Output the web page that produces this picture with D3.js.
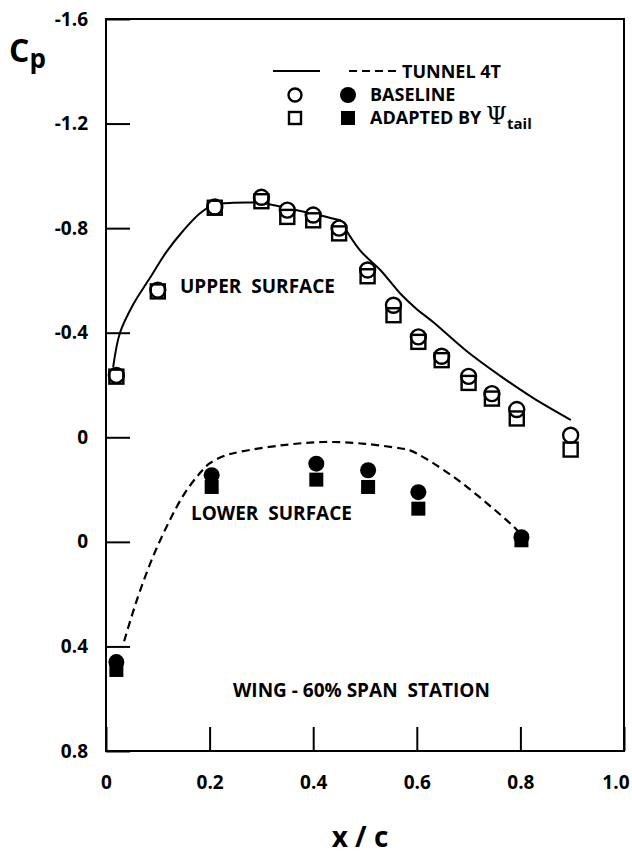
<!DOCTYPE html>
<html>
<head>
<meta charset="utf-8">
<script src="https://cdn.jsdelivr.net/npm/d3@7"></script>
<style>
  html, body { margin: 0; padding: 0; background: #fff; }
  svg { display: block; }
  text { font-family: "Open Sans", "DejaVu Sans", sans-serif; font-weight: 700; fill: #000; }
</style>
</head>
<body>
<svg id="chart" width="632" height="856"></svg>
<script>
// Wing pressure distribution, 60% span station.
// Lower-surface values are plotted on a second origin shifted 0.4 below the upper one.
const LOWER_OFFSET = 0.4;

// Tunnel 4T, upper surface (solid line); the curve has a kink at the shock (index UPPER_KINK)
const tunnelUpperX  = [0.014, 0.027, 0.053, 0.085, 0.117, 0.149, 0.181, 0.207, 0.246, 0.30, 0.36, 0.40, 0.452, 0.49, 0.53, 0.568, 0.60, 0.632, 0.696, 0.761, 0.825, 0.896];
const tunnelUpperCp = [-0.27, -0.40, -0.51, -0.61, -0.71, -0.79, -0.856, -0.888, -0.897, -0.896, -0.872, -0.855, -0.83, -0.716, -0.639, -0.55, -0.49, -0.44, -0.33, -0.235, -0.15, -0.068];
const UPPER_KINK = 12;

// Tunnel 4T, lower surface (dashed line)
const tunnelLowerX  = [0.035, 0.06, 0.09, 0.12, 0.15, 0.18, 0.20, 0.23, 0.26, 0.342, 0.42, 0.50, 0.57, 0.587, 0.67, 0.786, 0.80];
const tunnelLowerCp = [0.38, 0.22, 0.06, -0.07, -0.18, -0.26, -0.30, -0.33, -0.345, -0.37, -0.382, -0.375, -0.357, -0.35, -0.25, -0.06, -0.03];

// Upper surface computations
const upperX          = [0.02, 0.10, 0.21, 0.30, 0.35, 0.40, 0.45, 0.505, 0.555, 0.603, 0.648, 0.70, 0.745, 0.793, 0.897];
const upperBaseline   = [-0.237, -0.563, -0.881, -0.918, -0.869, -0.85, -0.80, -0.64, -0.505, -0.384, -0.31, -0.233, -0.167, -0.106, -0.008];
const upperAdapted    = [-0.232, -0.558, -0.878, -0.903, -0.843, -0.83, -0.78, -0.616, -0.467, -0.365, -0.295, -0.208, -0.148, -0.072, 0.047];

// Lower surface computations
const lowerX          = [0.02, 0.204, 0.406, 0.506, 0.603, 0.802];
const lowerBaseline   = [0.46, -0.255, -0.299, -0.274, -0.19, -0.018];
const lowerAdapted    = [0.49, -0.21, -0.238, -0.21, -0.127, -0.006];

// Axis ticks
const xTicks = [0, 0.2, 0.4, 0.6, 0.8, 1.0];
const xTickLabels = ["0", "0.2", "0.4", "0.6", "0.8", "1.0"];
const yTicks = [-1.6, -1.2, -0.8, -0.4, 0, 0.4, 0.8, 1.2];
const yTickLabels = ["-1.6", "-1.2", "-0.8", "-0.4", "0", "0", "0.4", "0.8"];

const svg = d3.select("#chart");
const plot = { left: 106, right: 624, top: 19, bottom: 751 };

const x = d3.scaleLinear().domain([0, 1]).range([plot.left, plot.right]);
const y = d3.scaleLinear().domain([-1.6, 1.2]).range([plot.top, plot.bottom]);

// Axes with inward ticks
const yAxis = d3.axisLeft(y)
  .tickValues(yTicks)
  .tickFormat((d, i) => yTickLabels[i])
  .tickSizeInner(-24).tickSizeOuter(0).tickPadding(18);
const gy = svg.append("g").attr("transform", `translate(${plot.left},0)`).call(yAxis);

const xAxis = d3.axisBottom(x)
  .tickValues(xTicks)
  .tickFormat((d, i) => xTickLabels[i])
  .tickSizeInner(-24).tickSizeOuter(0).tickPadding(25);
const gx = svg.append("g").attr("transform", `translate(0,${plot.bottom})`).call(xAxis);

[gx, gy].forEach(g => {
  g.select(".domain").remove();
  g.selectAll(".tick line").attr("stroke", "#000").attr("stroke-width", 2);
  g.selectAll(".tick text").attr("font-size", 19).attr("font-family", "'Open Sans', sans-serif").attr("font-weight", 700).attr("fill", "#000");
});
// keep the last x label inside the page
gx.selectAll(".tick text").filter(d => d === 1.0).attr("text-anchor", "end").attr("dx", 5);

// Frame
svg.append("rect")
  .attr("x", plot.left).attr("y", plot.top)
  .attr("width", plot.right - plot.left).attr("height", plot.bottom - plot.top)
  .attr("fill", "none").attr("stroke", "#000").attr("stroke-width", 2);

// Tunnel curves
const upperPts = d3.zip(tunnelUpperX, tunnelUpperCp);
const upperLine = d3.line()
  .x(d => x(d[0])).y(d => y(d[1]))
  .curve(d3.curveCatmullRom.alpha(0.5));
[upperPts.slice(0, UPPER_KINK + 1), upperPts.slice(UPPER_KINK)].forEach(seg => {
  svg.append("path")
    .datum(seg)
    .attr("d", upperLine)
    .attr("fill", "none").attr("stroke", "#000").attr("stroke-width", 2)
    .attr("stroke-linejoin", "round").attr("stroke-linecap", "round");
});

const lowerLine = d3.line()
  .x(d => x(d[0])).y(d => y(d[1] + LOWER_OFFSET))
  .curve(d3.curveCatmullRom.alpha(0.5));
svg.append("path")
  .datum(d3.zip(tunnelLowerX, tunnelLowerCp))
  .attr("d", lowerLine)
  .attr("fill", "none").attr("stroke", "#000").attr("stroke-width", 2.2)
  .attr("stroke-dasharray", "8,5");

// Markers
const R = 7.5, S = 14;
function circles(xs, vs, offset, filled) {
  svg.append("g").selectAll("circle")
    .data(d3.zip(xs, vs)).join("circle")
    .attr("cx", d => x(d[0])).attr("cy", d => y(d[1] + offset))
    .attr("r", filled ? R + 0.5 : R)
    .attr("fill", filled ? "#000" : "#fff")
    .attr("stroke", "#000").attr("stroke-width", filled ? 0 : 2.4);
}
function squares(xs, vs, offset, filled) {
  svg.append("g").selectAll("rect")
    .data(d3.zip(xs, vs)).join("rect")
    .attr("x", d => x(d[0]) - S / 2).attr("y", d => y(d[1] + offset) - S / 2)
    .attr("width", S).attr("height", S)
    .attr("fill", filled ? "#000" : "none")
    .attr("stroke", "#000").attr("stroke-width", filled ? 0 : 2.4);
}
circles(upperX, upperBaseline, 0, false);
squares(upperX, upperAdapted, 0, false);
squares(lowerX, lowerAdapted, LOWER_OFFSET, true);
circles(lowerX, lowerBaseline, LOWER_OFFSET, true);

// Legend
const lg = svg.append("g");
lg.append("line").attr("x1", 273).attr("x2", 320).attr("y1", 71).attr("y2", 71)
  .attr("stroke", "#000").attr("stroke-width", 2);
lg.append("line").attr("x1", 349).attr("x2", 401).attr("y1", 71).attr("y2", 71)
  .attr("stroke", "#000").attr("stroke-width", 2).attr("stroke-dasharray", "8,5");
lg.append("text").attr("x", 402).attr("y", 78).attr("font-size", 18).text("TUNNEL 4T");
lg.append("circle").attr("cx", 295).attr("cy", 95).attr("r", 6.5)
  .attr("fill", "#fff").attr("stroke", "#000").attr("stroke-width", 2.4);
lg.append("circle").attr("cx", 348).attr("cy", 95).attr("r", 8).attr("fill", "#000");
lg.append("text").attr("x", 370).attr("y", 101).attr("font-size", 18).text("BASELINE");
lg.append("rect").attr("x", 289).attr("y", 112).attr("width", 12).attr("height", 12)
  .attr("fill", "none").attr("stroke", "#000").attr("stroke-width", 2.4);
lg.append("rect").attr("x", 341).attr("y", 111).attr("width", 14).attr("height", 14).attr("fill", "#000");
const at = lg.append("text").attr("x", 370).attr("y", 124).attr("font-size", 18);
at.append("tspan").text("ADAPTED BY ");
at.append("tspan").attr("font-family", "'DejaVu Serif', serif").attr("font-weight", 400).attr("font-size", 24).text("Ψ");
at.append("tspan").attr("font-size", 15).attr("dy", 5).text("tail");

// Annotations
svg.append("text").attr("x", 180).attr("y", 293).attr("font-size", 19).attr("xml:space", "preserve").text("UPPER  SURFACE");
svg.append("text").attr("x", 191).attr("y", 520).attr("font-size", 19).attr("xml:space", "preserve").text("LOWER  SURFACE");
svg.append("text").attr("x", 233).attr("y", 697).attr("font-size", 19).attr("xml:space", "preserve").text("WING - 60% SPAN  STATION");

// Axis titles
const cp = svg.append("text").attr("x", 9).attr("y", 62).attr("font-size", 32);
cp.append("tspan").text("C");
cp.append("tspan").attr("font-size", 26).attr("dy", 6).text("p");
svg.append("text").attr("x", 360).attr("y", 847).attr("text-anchor", "middle")
  .attr("font-size", 28).attr("xml:space", "preserve").text("x / c");
</script>
</body>
</html>
